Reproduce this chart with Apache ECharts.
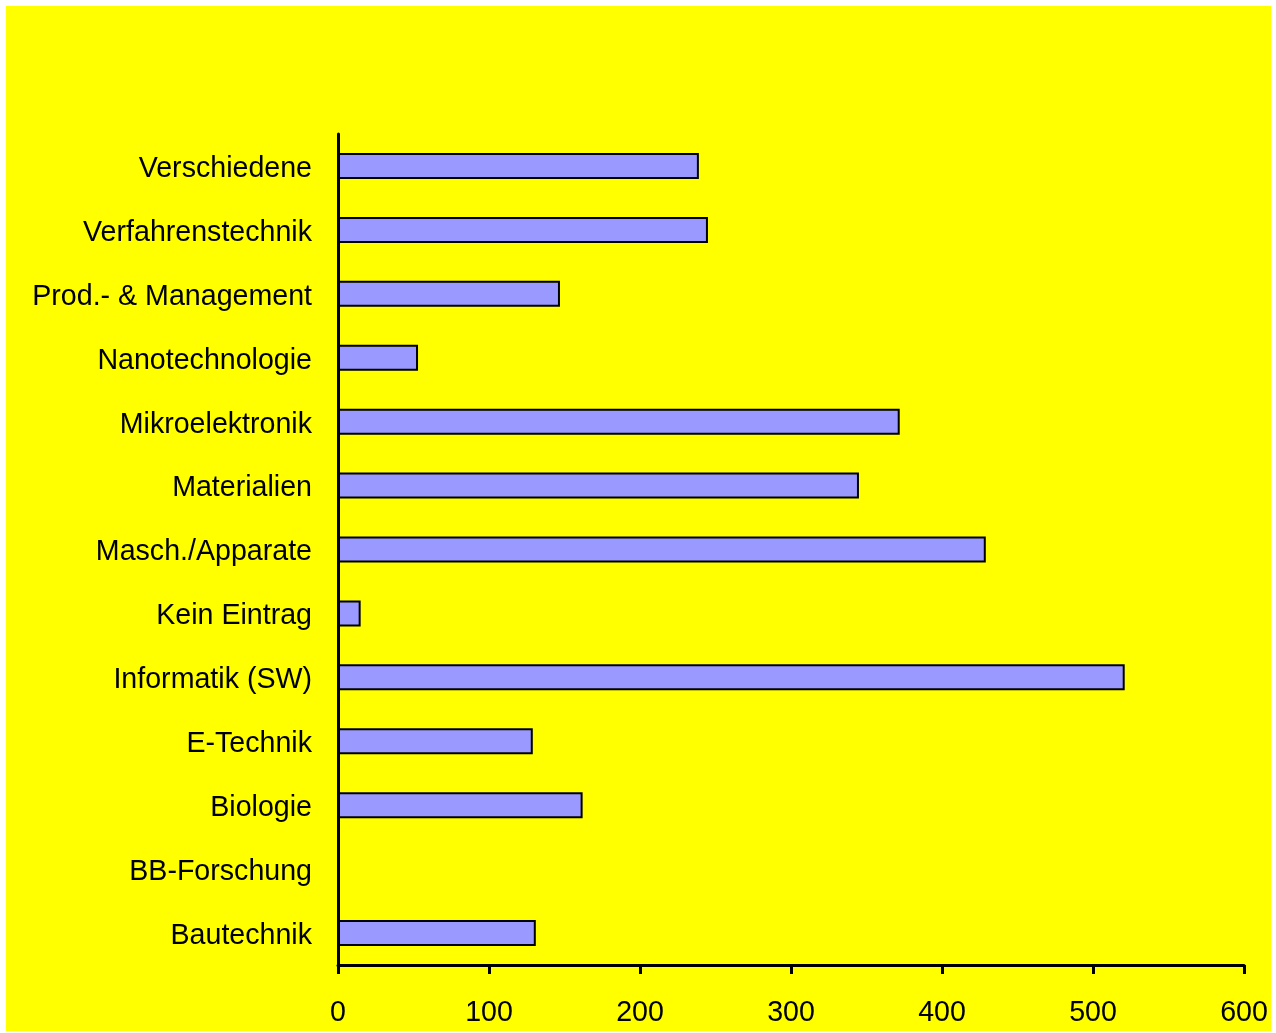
<!DOCTYPE html>
<html>
<head>
<meta charset="utf-8">
<script src="https://cdn.jsdelivr.net/npm/echarts@6/dist/echarts.min.js"></script>
<style>
  html, body { margin: 0; padding: 0; background: #ffffff; }
  #chart { position: absolute; left: 6px; top: 6px; width: 1265px; height: 1025px; }
</style>
</head>
<body>
<div id="chart"></div>
<script>
// Categories listed bottom to top (category axis on y runs upward)
const categories = [
  'Bautechnik', 'BB-Forschung', 'Biologie', 'E-Technik', 'Informatik (SW)',
  'Kein Eintrag', 'Masch./Apparate', 'Materialien', 'Mikroelektronik',
  'Nanotechnologie', 'Prod.- & Management', 'Verfahrenstechnik', 'Verschiedene'
];
const counts = [131, 0, 162, 129, 521, 15, 429, 345, 372, 53, 147, 245, 239];
const xTicks = { min: 0, max: 600, interval: 100 };

const chart = echarts.init(document.getElementById('chart'));
const font = 'Arial, "Liberation Sans", sans-serif';

chart.setOption({
  backgroundColor: '#ffff00',
  animation: false,
  grid: { left: 332, right: 27, top: 128, bottom: 66 },
  xAxis: {
    type: 'value',
    min: xTicks.min, max: xTicks.max, interval: xTicks.interval,
    axisLine: { show: true, lineStyle: { color: '#000', width: 3 } },
    axisTick: { show: true, length: 9, lineStyle: { color: '#000', width: 3 } },
    axisLabel: { color: '#000', fontSize: 28.6, fontFamily: font, margin: 34 },
    splitLine: { show: false }
  },
  yAxis: {
    type: 'category',
    data: categories,
    axisLine: { show: true, lineStyle: { color: '#000', width: 3 } },
    axisTick: { show: false },
    // labels sit a few pixels below the bar centre line
    axisLabel: { color: '#000', fontSize: 28.6, fontFamily: font, margin: 26, verticalAlign: 'top', lineHeight: 6 }
  },
  series: [{
    type: 'bar',
    data: counts,
    barWidth: 26,
    itemStyle: { color: '#9999ff', borderColor: '#000', borderWidth: 2 }
  }]
});
</script>
</body>
</html>
